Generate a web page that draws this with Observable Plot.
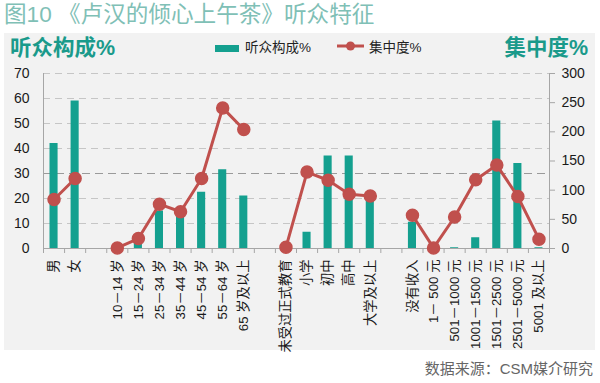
<!DOCTYPE html>
<html><head><meta charset="utf-8">
<script src="https://cdn.jsdelivr.net/npm/d3@7"></script>
<script src="https://cdn.jsdelivr.net/npm/@observablehq/plot@0.6"></script>
<style>
body{margin:0;width:600px;height:383px;position:relative;background:#fff;font-family:"Liberation Sans","Noto Sans CJK SC",sans-serif;overflow:hidden}
#title{position:absolute;left:4px;top:0px;font-size:22.6px;line-height:30px;color:#7fc0b6;white-space:nowrap}
#box{position:absolute;left:4px;top:33px;width:591px;height:317px;background:#f2f2f2}
.axt{position:absolute;top:34px;font-size:21.5px;font-weight:bold;color:#1a9a8b;line-height:28px;white-space:nowrap}
#ytl{left:10px}
#ytr{right:12px}
#legend{position:absolute;left:215px;top:40px;font-size:13.5px;line-height:16px;color:#222;white-space:nowrap}
#legend span{display:inline-block;vertical-align:middle}
#chart{position:absolute;left:0;top:60px}
#source{position:absolute;right:7px;top:357px;font-size:15px;color:#666;white-space:nowrap}
</style></head><body>
<div id="title">图10 《卢汉的倾心上午茶》听众特征</div>
<div id="box"></div>
<div id="ytl" class="axt">听众构成%</div>
<div id="legend"></div>
<div id="ytr" class="axt">集中度%</div>
<div id="chart"></div>
<div id="source">数据来源：CSM媒介研究</div>
<script>
const categories = ["男","女","","10－14 岁","15－24 岁","25－34 岁","35－44 岁","45－54 岁","55－64 岁","65 岁及以上","","未受过正式教育","小学","初中","高中","大学及以上","","没有收入","1－ 500 元","501－1000 元","1001－1500 元","1501－2500 元","2501－5000 元","5001 及以上"];
const share = [42, 59, null, 0.5, 3, 15, 13, 22.5, 31.5, 21, null, 0.3, 6.5, 37, 37, 21, null, 10.5, 0.3, 0.3, 4.3, 51, 34, 0.3];
const conc = [84, 120, null, 1, 17, 76, 63, 120, 241, 204, null, 2, 131, 117, 93, 90, null, 57, 1, 54, 118, 143, 89, 16];
const leftTicks = [0,10,20,30,40,50,60,70];
const rightTicks = [0,50,100,150,200,250,300];
const seriesNames = ["听众构成%","集中度%"];
const barColor = "#14a08f", lineColor = "#c0504d";
const k = 70/300;

const data = categories.map((c,i)=>({i, c, share: share[i], conc: conc[i]==null?null:conc[i]*k}));

document.getElementById("legend").innerHTML =
  `<span style="width:24px;height:7px;background:${barColor};margin-right:6px"></span><span>${seriesNames[0]}</span>` +
  `<span style="width:28px;margin-left:26px;margin-right:4px"><svg width="28" height="12"><line x1="0" y1="6" x2="27" y2="6" stroke="${lineColor}" stroke-width="3"/><circle cx="13.5" cy="6" r="4.5" fill="${lineColor}"/></svg></span><span>${seriesNames[1]}</span>`;

const font = '"Liberation Sans","Noto Sans CJK SC",sans-serif';
const chart = Plot.plot({
  width:600, height:290, marginLeft:43, marginRight:51, marginTop:13, marginBottom:102,
  style:{background:"transparent", fontFamily:font, fontSize:"13px", color:"#1a1a1a", overflow:"visible"},
  x:{domain:[0,categories.length], axis:null},
  y:{domain:[0,70], axis:null},
  marks:[
    Plot.ruleY(leftTicks.filter(d=>d>0 && d!==30), {stroke:"#c6c6c6", strokeDasharray:"7,5"}),
    Plot.ruleY([30], {stroke:"#9a9a9a", strokeDasharray:"8,5"}),
    Plot.rectY(data.filter(d=>d.share!=null), {x1:"i", x2:d=>d.i+1, y:"share", fill:barColor, insetLeft:6.5, insetRight:6.5}),
    Plot.ruleX([0, categories.length], {y1:0, y2:70, stroke:"#a6a6a6"}),
    Plot.ruleY([0], {stroke:"#a6a6a6"}),
    Plot.axisX(d3.range(0, categories.length+1), {tickSize:5, tickFormat:()=>"", stroke:"#a6a6a6", label:null}),
    Plot.axisX(d3.range(categories.length).map(i=>i+0.5), {tickSize:0, tickPadding:11, tickRotate:-90, tickFormat:d=>categories[Math.floor(d)], fontSize:13.3, label:null, fill:"#1a1a1a"}),
    Plot.axisY(leftTicks, {anchor:"left", tickSize:0, tickPadding:14, fontSize:14, label:null, fill:"#1a1a1a"}),
    Plot.axisY(rightTicks.map(v=>v*k), {anchor:"right", tickSize:5, tickPadding:7, tickFormat:d=>Math.round(d/k), fontSize:14, label:null, stroke:"#a6a6a6", fill:"#1a1a1a"}),
    Plot.line(data, {x:d=>d.i+0.5, y:"conc", stroke:lineColor, strokeWidth:3}),
    Plot.dot(data.filter(d=>d.conc!=null), {x:d=>d.i+0.5, y:"conc", r:6, fill:lineColor, stroke:lineColor})
  ]
});
document.getElementById("chart").append(chart);
</script>
</body></html>
